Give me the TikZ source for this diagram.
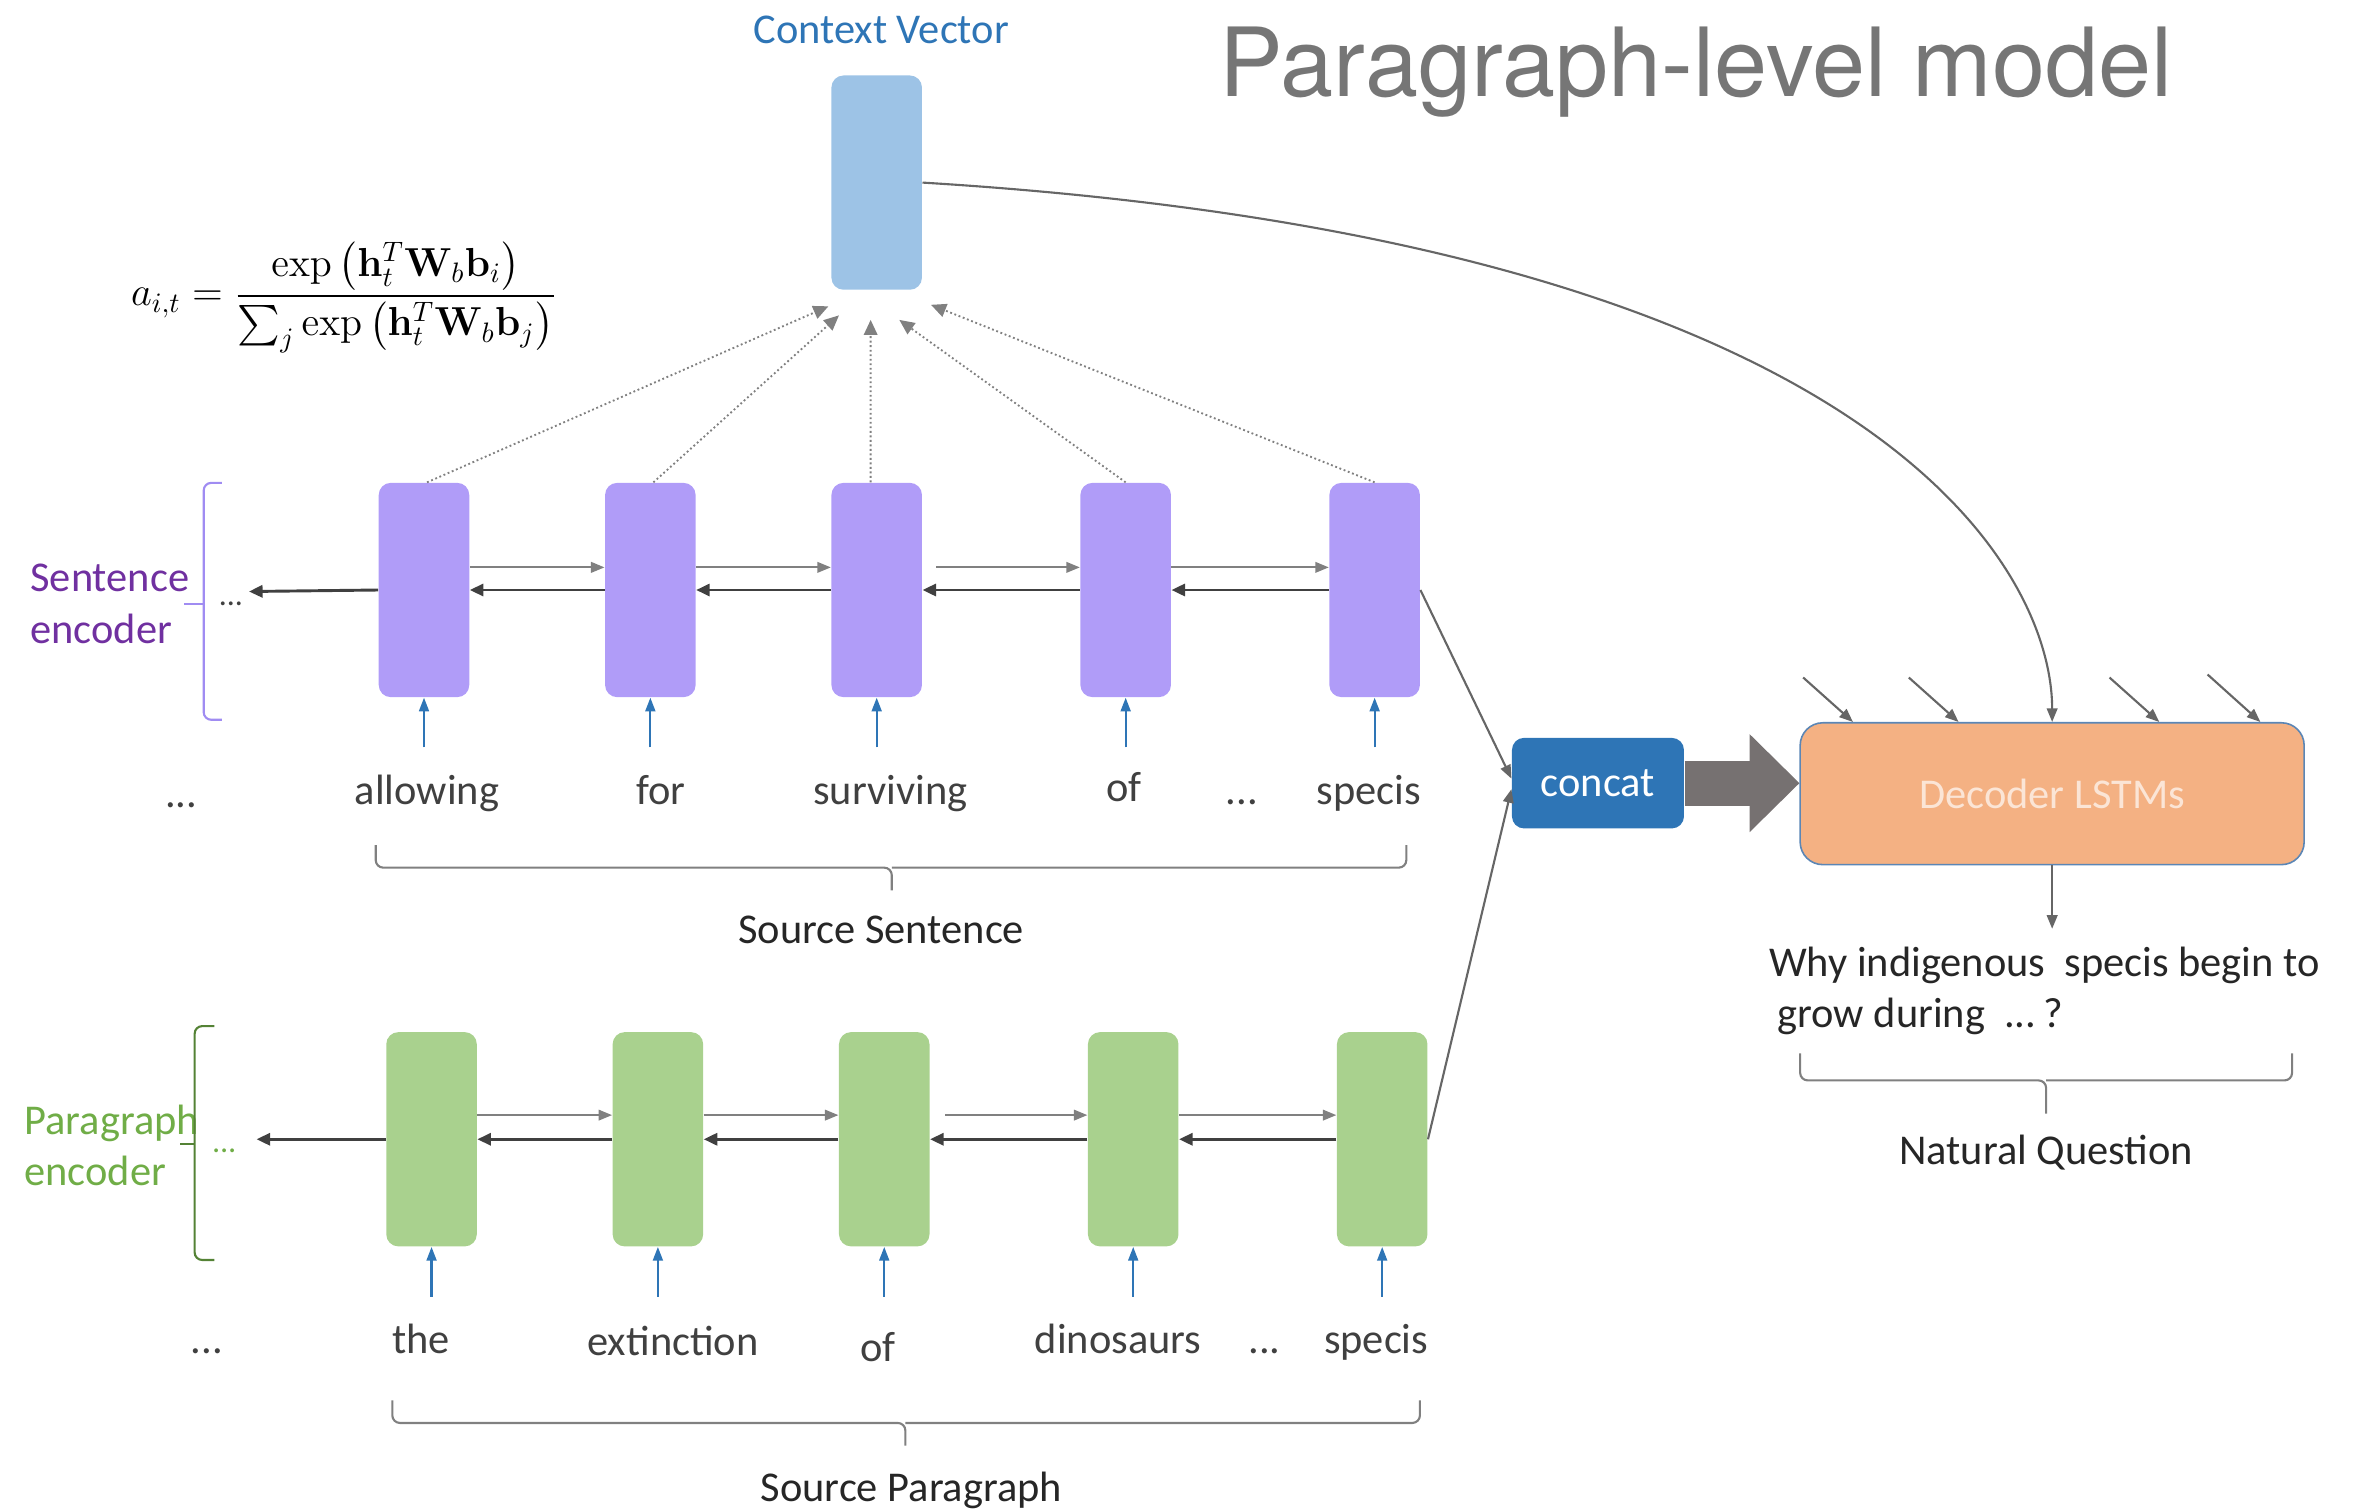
\documentclass[tikz,border=0pt]{standalone}
\usepackage{amsmath}
\usepackage{graphicx}
\usepackage[no-math]{fontspec}
\setmainfont{Carlito}
\newfontfamily\headfont{TeX Gyre Heros}
\usetikzlibrary{positioning,arrows.meta,calc}

\definecolor{cellpurple}{HTML}{B09CF8}
\definecolor{cellgreen}{HTML}{A9D18E}
\definecolor{ctxblue}{HTML}{9DC3E6}
\definecolor{darkblue}{HTML}{2E75B6}
\definecolor{decorange}{HTML}{F4B183}
\definecolor{decborder}{HTML}{5B86B5}
\definecolor{decfont}{HTML}{FBE5D6}
\definecolor{encpurple}{HTML}{7030A0}
\definecolor{bracketpurple}{HTML}{A08CF2}
\definecolor{encgreen}{HTML}{70AD47}
\definecolor{bracketgreen}{HTML}{548235}
\definecolor{arrowgray}{HTML}{767171}
\definecolor{wordgray}{HTML}{404040}
\definecolor{titlegray}{HTML}{767676}

\begin{document}
\begin{tikzpicture}[
    x=0.2mm, y=-0.2mm,
    font=\fontsize{16}{19.5}\selectfont,
    cell/.style={rounded corners=1.6mm, minimum width=12mm, minimum height=28.4mm, inner sep=0pt},
    word/.style={anchor=base, text=wordgray, inner sep=1pt},
    label/.style={anchor=base, text=black!85, inner sep=1pt},
    fwd/.style={draw=gray, line width=0.8pt, -{Triangle[length=1.8mm,width=1.4mm]}},
    bwd/.style={draw=black!75, line width=1.1pt, -{Triangle[length=1.8mm,width=1.6mm]}},
    att/.style={draw=gray, line width=0.7pt, densely dotted, -{Triangle[length=2mm,width=1.8mm]}},
    inp/.style={draw=darkblue, line width=0.8pt, -{Triangle[length=1.8mm,width=1.3mm]}},
    conn/.style={draw=black!60, line width=0.8pt, -{Triangle[length=1.8mm,width=1.4mm]}},
    bracket/.style={draw=gray, line width=0.8pt, rounded corners=1mm},
  ]
  \useasboundingbox (0,0) rectangle (1568,1001);

  % title and attention
  \node[anchor=base west, inner sep=0pt, text=titlegray, font=\headfont\fontsize{36}{40}\selectfont] (title) at (808,64) {Paragraph-level model};
  \node[cell, fill=ctxblue] (ctx) at (581,121) {};
  \node[anchor=base, text=darkblue] (ctxlabel) at (584,29) {Context Vector};
  \node[font=\fontsize{14.4}{18}\selectfont] (formula) at (228,197)
    {\scalebox{1.06}{$\displaystyle a_{i,t}=\frac{\exp\left(\mathbf{h}_t^T\mathbf{W}_b\mathbf{b}_i\right)}{\sum_j\exp\left(\mathbf{h}_t^T\mathbf{W}_b\mathbf{b}_j\right)}$}};

  % sentence encoder
  \node[cell, fill=cellpurple] (s1) at (281,391) {};
  \node[cell, fill=cellpurple] (s2) at (431,391) {};
  \node[cell, fill=cellpurple] (s3) at (581,391) {};
  \node[cell, fill=cellpurple] (s4) at (746,391) {};
  \node[cell, fill=cellpurple] (s5) at (911,391) {};

  \draw[fwd] ([yshift=3mm]s1.east) -- ([yshift=3mm]s2.west);
  \draw[fwd] ([yshift=3mm]s2.east) -- ([yshift=3mm]s3.west);
  \draw[fwd] ([yshift=3mm,xshift=1.8mm]s3.east) -- ([yshift=3mm]s4.west);
  \draw[fwd] ([yshift=3mm]s4.east) -- ([yshift=3mm]s5.west);
  \coordinate (send) at (165,392);
  \draw[bwd] (s5.west) -- (s4.east);
  \draw[bwd] (s4.west) -- (s3.east);
  \draw[bwd] (s3.west) -- (s2.east);
  \draw[bwd] (s2.west) -- (s1.east);
  \draw[bwd] (s1.west) -- (send);
  \node[word, font=\fontsize{12}{14}\selectfont] (sdots) at (153,401) {...};

  \node[word] (w0) at (120,535) {...};
  \node[word] (w1) at (283,533) {allowing};
  \node[word] (w2) at (438,533) {for};
  \node[word] (w3) at (590,533) {surviving};
  \node[word] (w4) at (745,531) {of};
  \node[word] (w5) at (823,533) {...};
  \node[word] (w6) at (907,533) {specis};
  \draw[inp] ([yshift=-6.6mm]s1.south) -- (s1.south);
  \draw[inp] ([yshift=-6.6mm]s2.south) -- (s2.south);
  \draw[inp] ([yshift=-6.6mm]s3.south) -- (s3.south);
  \draw[inp] ([yshift=-6.6mm]s4.south) -- (s4.south);
  \draw[inp] ([yshift=-6.6mm]s5.south) -- (s5.south);

  \coordinate (a1) at (549,203);
  \coordinate (a2) at (556,209);
  \coordinate (a3) at (577,212);
  \coordinate (a4) at (596,212);
  \coordinate (a5) at (617,202);
  \draw[att] ([xshift=0.4mm]s1.north) -- (a1);
  \draw[att] ([xshift=0.4mm]s2.north) -- (a2);
  \draw[att] ([xshift=-0.8mm]s3.north) -- (a3);
  \draw[att] (s4.north) -- (a4);
  \draw[att] (s5.north) -- (a5);

  \node[anchor=west, align=left, text=encpurple] (senc) at (14,400) {Sentence\\encoder};
  \draw[bracket, draw=bracketpurple] (147,320) -- (135,320) -- (135,477) -- (147,477);
  \draw[draw=bracketpurple, line width=0.8pt] (135,400) -- (122,400);

  \draw[bracket] (249,560) |- (591,575) -- (591,590);
  \draw[bracket] (932,560) |- (591,575);
  \node[label] (srcsent) at (584,625) {Source Sentence};

  % paragraph encoder
  \node[cell, fill=cellgreen] (p1) at (286,755) {};
  \node[cell, fill=cellgreen] (p2) at (436,755) {};
  \node[cell, fill=cellgreen] (p3) at (586,755) {};
  \node[cell, fill=cellgreen] (p4) at (751,755) {};
  \node[cell, fill=cellgreen] (p5) at (916,755) {};

  \draw[fwd] ([yshift=3.2mm]p1.east) -- ([yshift=3.2mm]p2.west);
  \draw[fwd] ([yshift=3.2mm]p2.east) -- ([yshift=3.2mm]p3.west);
  \draw[fwd] ([yshift=3.2mm,xshift=2mm]p3.east) -- ([yshift=3.2mm]p4.west);
  \draw[fwd] ([yshift=3.2mm]p4.east) -- ([yshift=3.2mm]p5.west);
  \coordinate (pend) at (170,755);
  \draw[bwd] (p5.west) -- (p4.east);
  \draw[bwd] (p4.west) -- (p3.east);
  \draw[bwd] (p3.west) -- (p2.east);
  \draw[bwd] (p2.west) -- (p1.east);
  \draw[bwd] (p1.west) -- (pend);
  \node[word, text=encgreen, font=\fontsize{12}{14}\selectfont\itshape] (pdots) at (149,764) {...};

  \node[word] (v0) at (137,897) {...};
  \node[word] (v1) at (279,897) {the};
  \node[word] (v2) at (446,898) {extinction};
  \node[word] (v3) at (582,902) {of};
  \node[word] (v4) at (741,897) {dinosaurs};
  \node[word] (v5) at (838,897) {...};
  \node[word] (v6) at (912,897) {specis};
  \draw[inp] ([yshift=-6.6mm]p1.south) -- (p1.south);
  \draw[inp] ([yshift=-6.6mm]p2.south) -- (p2.south);
  \draw[inp] ([yshift=-6.6mm]p3.south) -- (p3.south);
  \draw[inp] ([yshift=-6.6mm]p4.south) -- (p4.south);
  \draw[inp] ([yshift=-6.6mm]p5.south) -- (p5.south);

  \node[anchor=west, align=left, text=encgreen] (penc) at (10,759) {Paragraph\\encoder};
  \draw[bracket, draw=bracketgreen] (142,680) -- (129,680) -- (129,835) -- (142,835);
  \draw[draw=bracketgreen, line width=0.8pt] (129,758) -- (119,758);

  \draw[bracket] (260,928) |- (600,943) -- (600,958);
  \draw[bracket] (941,928) |- (600,943);
  \node[label] (srcpara) at (604,995) {Source Paragraph};

  % decoder
  \node[rounded corners=1.6mm, fill=darkblue, text=white, minimum width=22.8mm, minimum height=12mm] (concat) at (1059,519) {concat};
  \node[rounded corners=3mm, fill=decorange, draw=decborder, line width=0.6pt, text=decfont, minimum width=66.8mm, minimum height=18.8mm] (dec) at (1360,526) {Decoder LSTMs};

  \draw[conn] (s5.east) -- ([yshift=0.6mm]concat.west);
  \draw[conn] (p5.east) -- ([yshift=-0.8mm]concat.west);
  \draw[draw=arrowgray, line width=6mm, -{Triangle[length=6.6mm,width=13mm,line width=0pt]}] (concat.east) -- (concat.east -| dec.west);
  \draw[conn] (ctx.east) .. controls (1250,160) and (1360,380) .. (dec.north);

  \coordinate (din1) at (1195,449);
  \coordinate (din2) at (1265,449);
  \coordinate (din3) at (1398,449);
  \coordinate (din4) at (1463,447);
  \draw[conn] (din1) -- ([xshift=-26.4mm]dec.north);
  \draw[conn] (din2) -- ([xshift=-12.4mm]dec.north);
  \draw[conn] (din3) -- ([xshift=14.2mm]dec.north);
  \draw[conn] (din4) -- ([xshift=27.6mm]dec.north);
  \draw[conn] (dec.south) -- ([yshift=-8.4mm]dec.south);

  \node[anchor=north west, align=left, inner sep=0pt, text=black!85] (quest) at (1172,627)
    {Why indigenous\ \ specis begin to\\\hspace{0.2em}grow during\ \ ...\,?};
  \draw[bracket] (1193,698) |- (1356,716) -- (1356,738);
  \draw[bracket] (1519,698) |- (1356,716);
  \node[label] (natq) at (1356,772) {Natural Question};
\end{tikzpicture}
\end{document}
